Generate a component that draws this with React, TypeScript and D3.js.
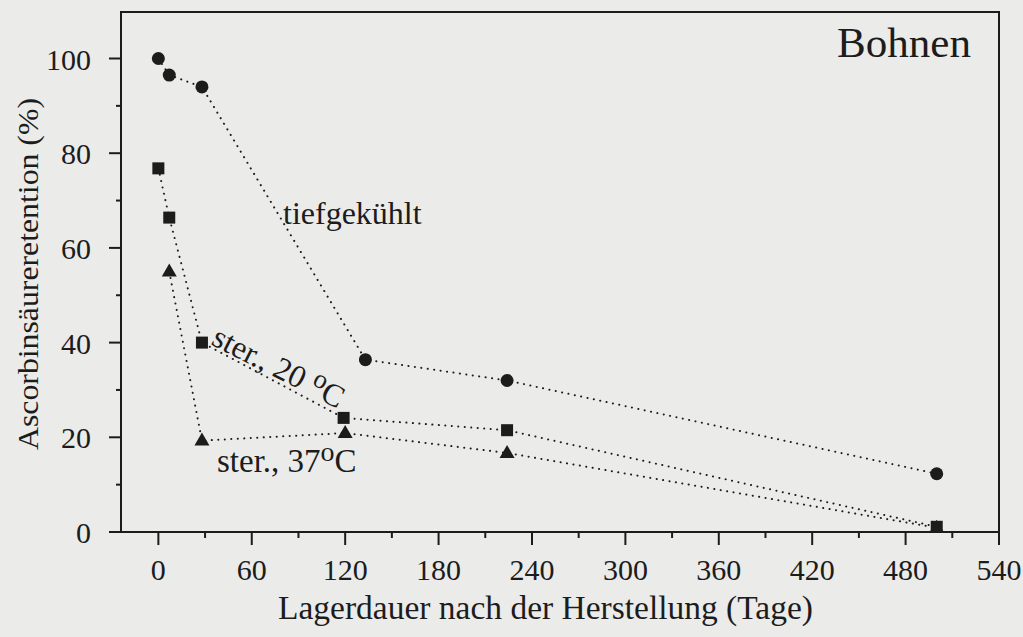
import React from "react";
import * as d3 from "d3";

const frozenDays = [0, 7, 28, 133, 224, 500];
const frozenValues = [100, 96.5, 94, 36.4, 32, 12.3];
const ster20Days = [0, 7, 28, 119, 224, 500];
const ster20Values = [76.8, 66.4, 40, 24.1, 21.5, 1.1];
const ster37Days = [7, 28, 120, 224, 500];
const ster37Values = [55, 19.3, 20.9, 16.7, 0.9];
const xTicks = [0, 60, 120, 180, 240, 300, 360, 420, 480, 540];
const yTicks = [0, 20, 40, 60, 80, 100];

const W = 1023;
const H = 637;
const L = 121, R = 999, T = 12, B = 532;
const FONT = "'Liberation Serif', 'Times New Roman', serif";
const INK = "#1c1c1c";

export default function App() {
  const x = d3.scaleLinear().domain([-24, 540]).range([L, R]);
  const y = d3.scaleLinear().domain([0, 110]).range([B, B - 110 * (94.7 / 20)]);
  const line = d3.line<[number, number]>().x((d) => x(d[0])).y((d) => y(d[1]));
  const zip = (a: number[], b: number[]) => a.map((v, i) => [v, b[i]] as [number, number]);
  const frozen = zip(frozenDays, frozenValues);
  const s20 = zip(ster20Days, ster20Values);
  const s37 = zip(ster37Days, ster37Values);
  const minorX = d3.range(30, 540, 60);
  const minorY = d3.range(10, 110, 20);
  const dash = { fill: "none", stroke: INK, strokeWidth: 2, strokeDasharray: "0.1 6.4", strokeLinecap: "round" as const };
  const tri = "M0,-8L7.5,5L-7.5,5Z";
  return (
    <div style={{ position: "fixed", left: 0, top: 0 }}>
      <svg width={W} height={H} style={{ display: "block", background: "#ebebea" }} fontFamily={FONT}>
        <rect x={0} y={0} width={W} height={H} fill="#ebebea" />
        <rect x={L} y={T} width={R - L} height={B - T} fill="none" stroke={INK} strokeWidth={2} />
        {xTicks.map((t) => (
          <g key={"xt" + t}>
            <line x1={x(t)} x2={x(t)} y1={B} y2={B + 13} stroke={INK} strokeWidth={2} />
            <text x={x(t)} y={580} textAnchor="middle" fontSize={30} fill={INK}>{t}</text>
          </g>
        ))}
        {minorX.map((t) => (
          <line key={"mx" + t} x1={x(t)} x2={x(t)} y1={B} y2={B + 6} stroke={INK} strokeWidth={2} />
        ))}
        {yTicks.map((t) => (
          <g key={"yt" + t}>
            <line x1={L - 12} x2={L} y1={y(t)} y2={y(t)} stroke={INK} strokeWidth={2} />
            <text x={91} y={y(t) + 11} textAnchor="end" fontSize={30} fill={INK}>{t}</text>
          </g>
        ))}
        {minorY.map((t) => (
          <line key={"my" + t} x1={L - 5} x2={L} y1={y(t)} y2={y(t)} stroke={INK} strokeWidth={2} />
        ))}
        <text x={278} y={619} fontSize={33} fill={INK} textLength={535} lengthAdjust="spacingAndGlyphs">Lagerdauer nach der Herstellung (Tage)</text>
        <text transform={`translate(38,450) rotate(-90)`} fontSize={30} fill={INK} textLength={352} lengthAdjust="spacingAndGlyphs">Ascorbinsäureretention (%)</text>
        <text x={837} y={57} fontSize={42} fill={INK} textLength={134} lengthAdjust="spacingAndGlyphs">Bohnen</text>
        <path d={line(frozen) || ""} {...dash} />
        <path d={line(s20) || ""} {...dash} />
        <path d={line(s37) || ""} {...dash} />
        {frozen.map((d, i) => (
          <circle key={"c" + i} cx={x(d[0])} cy={y(d[1])} r={6.5} fill={INK} />
        ))}
        {s20.map((d, i) => (
          <rect key={"s" + i} x={x(d[0]) - 6} y={y(d[1]) - 6} width={12} height={12} fill={INK} />
        ))}
        {s37.map((d, i) => (
          <path key={"t" + i} d={tri} transform={`translate(${x(d[0])},${y(d[1])})`} fill={INK} />
        ))}
        <text x={283} y={224} fontSize={32} fill={INK}>tiefgekühlt</text>
        <text transform="translate(210,344) rotate(27)" fontSize={32} fill={INK}>
          ster., 20 <tspan dy={-10} fontSize={27}>o</tspan><tspan dy={10}>C</tspan>
        </text>
        <text x={217} y={472} fontSize={33} fill={INK}>
          ster., 37<tspan dy={-11} fontSize={28}>o</tspan><tspan dy={11}>C</tspan>
        </text>
      </svg>
    </div>
  );
}
